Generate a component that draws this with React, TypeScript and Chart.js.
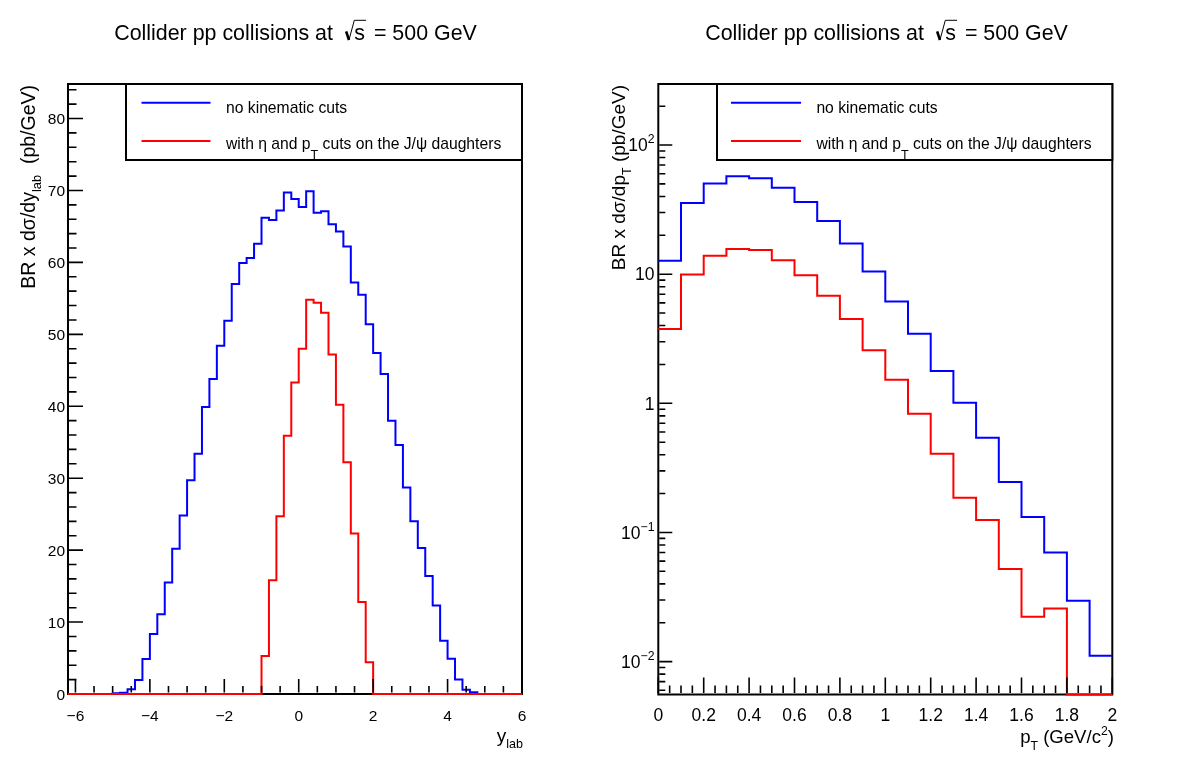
import React, { useEffect, useRef } from 'react';
import { Chart, registerables } from 'chart.js';

Chart.register(...registerables);

const FONT = '"Liberation Sans", Arial, Helvetica, sans-serif';
const BLUE = '#0000ff';
const RED = '#ff0000';

// Rapidity spectrum, bins of 0.2 from -6.2 to 6.0 (61 bins)
const yLabBinLow = -6.2;
const yLabBinWidth = 0.2;
const yLabNoCuts = [
  0, 0, 0, 0, 0, 0,
  0.12, 0.18, 0.65, 1.95, 4.87, 8.35, 11.1, 15.5, 20.2, 24.8,
  29.7, 33.4, 39.9, 43.8, 48.4, 51.9, 57.0, 59.9, 60.6, 62.6,
  66.2, 65.9, 67.2, 69.7, 68.8, 67.7, 69.9, 66.9, 67.1, 65.3,
  64.3, 62.2, 57.2, 55.5, 51.4, 47.4, 44.5, 38.0, 34.6, 28.7,
  24.0, 20.3, 16.4, 12.3, 7.4, 4.9, 2.0, 0.6, 0.23,
  0, 0, 0, 0, 0, 0,
];
const yLabWithCuts = [
  0, 0, 0, 0, 0, 0, 0, 0, 0, 0, 0, 0, 0, 0, 0, 0, 0, 0, 0, 0, 0, 0, 0, 0, 0, 0,
  5.3, 15.8, 24.7, 35.9, 43.3, 48.0, 54.8, 54.4, 53.0, 47.2, 40.2, 32.2, 22.3, 12.8, 4.4,
  0, 0, 0, 0, 0, 0, 0, 0, 0, 0, 0, 0, 0, 0, 0, 0, 0, 0, 0, 0,
];

// Transverse momentum spectrum, bins of 0.1 from 0 to 2 (20 bins)
const ptBinLow = 0;
const ptBinWidth = 0.1;
const ptNoCuts = [
  12.7, 35.6, 50.3, 57.3, 55.2, 46.8, 36.2, 25.8, 17.3, 10.5,
  6.15, 3.45, 1.78, 1.01, 0.542, 0.246, 0.132, 0.070, 0.0296, 0.0111,
];
const ptWithCuts = [
  3.76, 9.95, 13.9, 15.7, 15.4, 12.8, 9.8, 6.8, 4.49, 2.58,
  1.52, 0.83, 0.406, 0.186, 0.125, 0.052, 0.0222, 0.0258, 0, 0,
];

// Axis ticks and labels
const yLabMajorTicks = [-6, -4, -2, 0, 2, 4, 6];
const yLabTickLabels = ['\u22126', '\u22124', '\u22122', '0', '2', '4', '6'];
const yLabMinorStep = 0.5;
const dsdyMajorTicks = [0, 10, 20, 30, 40, 50, 60, 70, 80];
const dsdyTickLabels = ['0', '10', '20', '30', '40', '50', '60', '70', '80'];
const dsdyMinorStep = 2;
const ptMajorTicks = [0, 0.2, 0.4, 0.6, 0.8, 1, 1.2, 1.4, 1.6, 1.8, 2];
const ptTickLabels = ['0', '0.2', '0.4', '0.6', '0.8', '1', '1.2', '1.4', '1.6', '1.8', '2'];
const ptMinorStep = 0.05;
const dsdptMajorTicks = [0.01, 0.1, 1, 10, 100];
const dsdptTickLabels = ['10^{\u22122}', '10^{\u22121}', '1', '10', '10^{2}'];

const legendNoCuts = 'no kinematic cuts';
const legendWithCuts = 'with \u03b7 and p_{T} cuts on the J/\u03c8 daughters';
const titlePrefix = 'Collider pp collisions at';
const titleRoot = 's';
const titleSuffix = '= 500 GeV';

const PANEL_W = 591;
const PANEL_H = 780;

type Seg = { t: string; s: 0 | 1 | -1 };

function parseRich(src: string): Seg[] {
  const out: Seg[] = [];
  let i = 0;
  let buf = '';
  while (i < src.length) {
    const c = src[i];
    if ((c === '_' || c === '^') && src[i + 1] === '{') {
      if (buf) { out.push({ t: buf, s: 0 }); buf = ''; }
      const end = src.indexOf('}', i + 2);
      out.push({ t: src.slice(i + 2, end), s: c === '_' ? 1 : -1 });
      i = end + 1;
    } else {
      buf += c;
      i++;
    }
  }
  if (buf) out.push({ t: buf, s: 0 });
  return out;
}

const font = (size: number) => `${size}px ${FONT}`;

interface RichOpts { subScale?: number; subDrop?: number; supRise?: number }

function richWidth(ctx: CanvasRenderingContext2D, segs: Seg[], size: number, o: RichOpts) {
  let w = 0;
  for (const sg of segs) {
    ctx.font = font(sg.s ? size * (o.subScale ?? 0.72) : size);
    w += ctx.measureText(sg.t).width;
  }
  return w;
}

function drawRich(
  ctx: CanvasRenderingContext2D,
  text: string,
  x: number,
  y: number,
  size: number,
  align: 'left' | 'right' | 'center',
  o: RichOpts = {},
) {
  const segs = parseRich(text);
  const w = richWidth(ctx, segs, size, o);
  let cx = align === 'left' ? x : align === 'right' ? x - w : x - w / 2;
  ctx.textAlign = 'left';
  ctx.textBaseline = 'alphabetic';
  for (const sg of segs) {
    const sz = sg.s ? size * (o.subScale ?? 0.72) : size;
    ctx.font = font(sz);
    const dy = sg.s === 1 ? size * (o.subDrop ?? 0.4) : sg.s === -1 ? -size * (o.supRise ?? 0.42) : 0;
    ctx.fillText(sg.t, cx, y + dy);
    cx += ctx.measureText(sg.t).width;
  }
}

// Outline of a histogram: one point per low edge plus the last high edge
function histPoints(low: number, width: number, values: number[], floor?: number) {
  const pts = values.map((v, i) => ({
    x: low + i * width,
    y: floor !== undefined && v <= 0 ? floor : v,
  }));
  pts.push({ x: low + values.length * width, y: pts[pts.length - 1].y });
  return pts;
}

function linearMinors(from: number, to: number, step: number) {
  const out: number[] = [];
  const n = Math.round((to - from) / step);
  for (let i = 0; i <= n; i++) out.push(from + i * step);
  return out;
}

function logMinors(min: number, max: number) {
  const out: number[] = [];
  for (let d = -4; d <= 3; d++) {
    for (let k = 1; k <= 9; k++) {
      const v = k * Math.pow(10, d);
      if (v >= min && v <= max) out.push(v);
    }
  }
  return out;
}

interface Series { points: { x: number; y: number }[]; color: string; label: string; row: number; baseline: number }

interface PanelSpec {
  offsetX: number;
  frame: { left: number; right: number; top: number; bottom: number };
  xMin: number;
  xMax: number;
  xMajors: number[];
  xLabels: string[];
  xMinors: number[];
  xMajorLen: number;
  xMinorLen: number;
  xLabelSize: number;
  xLabelBaseline: number;
  xTitle: string;
  xTitleRight: number;
  xTitleBaseline: number;
  xTitleSize: number;
  yType: 'linear' | 'logarithmic';
  yMin: number;
  yMax: number;
  yMajors: number[];
  yLabels: string[];
  yMinors: number[];
  yMajorLen: number;
  yMinorLen: number;
  yLabelSize: number;
  yLabelRight: number;
  yTitle: string;
  yTitleBaselineX: number;
  yTitleSize: number;
  series: Series[];
  legend: { left: number; right: number; top: number; bottom: number; lineFrom: number; lineTo: number; textX: number };
}

function decorPlugin(spec: PanelSpec) {
  const ox = spec.offsetX;
  return {
    id: 'rootFrame',
    beforeDatasetsDraw(chart: any) {
      const { ctx, chartArea: a } = chart;
      ctx.save();
      ctx.fillStyle = '#ffffff';
      ctx.fillRect(0, 0, chart.width, chart.height);
      ctx.strokeStyle = '#000000';
      ctx.lineWidth = 2;
      ctx.strokeRect(a.left, a.top, a.right - a.left, a.bottom - a.top);
      ctx.restore();
    },
    afterDatasetsDraw(chart: any) {
      const { ctx, chartArea: a } = chart;
      const xs = chart.scales.x;
      const ys = chart.scales.y;
      ctx.save();
      ctx.strokeStyle = '#000000';
      ctx.fillStyle = '#000000';
      ctx.lineWidth = 1.6;
      const near = (v: number, arr: number[]) => arr.some((m) => Math.abs(m - v) < 1e-9 * Math.max(1, Math.abs(m)));

      // ticks pointing into the frame
      ctx.beginPath();
      for (const v of spec.xMinors) {
        const px = xs.getPixelForValue(v);
        const len = near(v, spec.xMajors) ? spec.xMajorLen : spec.xMinorLen;
        ctx.moveTo(px, a.bottom - 1.5);
        ctx.lineTo(px, a.bottom - len);
      }
      for (const v of spec.yMinors) {
        if (Math.abs(v - spec.yMin) < 1e-12) continue;
        const py = ys.getPixelForValue(v);
        const len = near(v, spec.yMajors) ? spec.yMajorLen : spec.yMinorLen;
        ctx.moveTo(a.left + 1, py);
        ctx.lineTo(a.left + len, py);
      }
      ctx.stroke();

      // tick labels
      spec.xMajors.forEach((v, i) => {
        drawRich(ctx, spec.xLabels[i], xs.getPixelForValue(v), spec.xLabelBaseline, spec.xLabelSize, 'center');
      });
      spec.yMajors.forEach((v, i) => {
        const py = ys.getPixelForValue(v);
        drawRich(ctx, spec.yLabels[i], spec.yLabelRight - ox, py + spec.yLabelSize * 0.36, spec.yLabelSize, 'right', { supRise: 0.45, subScale: 0.7 });
      });

      // axis titles
      drawRich(ctx, spec.xTitle, spec.xTitleRight - ox, spec.xTitleBaseline, spec.xTitleSize, 'right', { subDrop: 0.35, supRise: 0.45, subScale: 0.66 });
      ctx.save();
      ctx.translate(spec.yTitleBaselineX - ox, a.top + 1);
      ctx.rotate(-Math.PI / 2);
      drawRich(ctx, spec.yTitle, 0, 0, spec.yTitleSize, 'right', { subDrop: 0.35, subScale: 0.66 });
      ctx.restore();

      // title with a square-root sign
      const tSize = 21.4;
      ctx.font = font(tSize);
      const wPre = ctx.measureText(titlePrefix + ' ').width;
      const wRoot = ctx.measureText(titleRoot).width;
      const wSuf = ctx.measureText(' ' + titleSuffix).width;
      const gapBefore = tSize * 0.34;
      const radW = tSize * 0.38;
      const gapAfter = tSize * 0.14;
      const total = wPre + gapBefore + radW + wRoot + gapAfter + wSuf;
      let tx = PANEL_W / 2 - total / 2;
      const tBase = 40;
      ctx.textAlign = 'left';
      ctx.textBaseline = 'alphabetic';
      ctx.fillText(titlePrefix + ' ', tx, tBase);
      tx += wPre + gapBefore;
      ctx.beginPath();
      ctx.lineWidth = 2.6;
      ctx.moveTo(tx, tBase - tSize * 0.4);
      ctx.lineTo(tx + tSize * 0.13, tBase);
      ctx.stroke();
      ctx.beginPath();
      ctx.lineWidth = 1;
      ctx.moveTo(tx + tSize * 0.13, tBase);
      ctx.lineTo(tx + radW, tBase - tSize * 0.92);
      ctx.lineTo(tx + radW + wRoot + tSize * 0.05, tBase - tSize * 0.92);
      ctx.stroke();
      tx += radW;
      ctx.fillText(titleRoot, tx, tBase);
      tx += wRoot + gapAfter;
      ctx.fillText(' ' + titleSuffix, tx, tBase);

      // legend box
      const L = spec.legend;
      ctx.fillStyle = '#ffffff';
      ctx.fillRect(L.left - ox, L.top, L.right - L.left, L.bottom - L.top);
      ctx.strokeStyle = '#000000';
      ctx.lineWidth = 2;
      ctx.strokeRect(L.left - ox, L.top, L.right - L.left, L.bottom - L.top);
      for (const s of spec.series) {
        ctx.beginPath();
        ctx.strokeStyle = s.color;
        ctx.lineWidth = 2;
        ctx.moveTo(L.lineFrom - ox, s.row);
        ctx.lineTo(L.lineTo - ox, s.row);
        ctx.stroke();
        ctx.fillStyle = '#000000';
        drawRich(ctx, s.label, L.textX - ox, s.baseline, 15.7, 'left', { subDrop: 0.6, subScale: 0.8 });
      }
      ctx.restore();
    },
  };
}

const leftSpec: PanelSpec = {
  offsetX: 0,
  frame: { left: 68, right: 522, top: 84, bottom: 694 },
  xMin: -6.2,
  xMax: 6,
  xMajors: yLabMajorTicks,
  xLabels: yLabTickLabels,
  xMinors: linearMinors(-6, 6, yLabMinorStep),
  xMajorLen: 15,
  xMinorLen: 8,
  xLabelSize: 15.5,
  xLabelBaseline: 720.5,
  xTitle: 'y_{lab}',
  xTitleRight: 523,
  xTitleBaseline: 741.5,
  xTitleSize: 19,
  yType: 'linear',
  yMin: 0,
  yMax: 84.8,
  yMajors: dsdyMajorTicks,
  yLabels: dsdyTickLabels,
  yMinors: linearMinors(0, 84, dsdyMinorStep),
  yMajorLen: 15,
  yMinorLen: 8.5,
  yLabelSize: 15.5,
  yLabelRight: 65,
  yTitle: 'BR x d\u03c3/dy_{lab}  (pb/GeV)',
  yTitleBaselineX: 34.6,
  yTitleSize: 19.5,
  series: [
    { points: histPoints(yLabBinLow, yLabBinWidth, yLabWithCuts), color: RED, label: legendWithCuts, row: 141, baseline: 149.3 },
    { points: histPoints(yLabBinLow, yLabBinWidth, yLabNoCuts), color: BLUE, label: legendNoCuts, row: 102.7, baseline: 112.7 },
  ],
  legend: { left: 126, right: 522, top: 84, bottom: 160, lineFrom: 141.5, lineTo: 210.5, textX: 226 },
};

const PT_LOG_MIN = 0.00556;
const PT_LOG_MAX = 297;

const rightSpec: PanelSpec = {
  offsetX: PANEL_W,
  frame: { left: 658.3, right: 1112.3, top: 84, bottom: 694.5 },
  xMin: 0,
  xMax: 2,
  xMajors: ptMajorTicks,
  xLabels: ptTickLabels,
  xMinors: linearMinors(0, 2, ptMinorStep),
  xMajorLen: 17,
  xMinorLen: 9,
  xLabelSize: 17.5,
  xLabelBaseline: 720.5,
  xTitle: 'p_{T} (GeV/c^{2})',
  xTitleRight: 1114,
  xTitleBaseline: 743,
  xTitleSize: 18.6,
  yType: 'logarithmic',
  yMin: PT_LOG_MIN,
  yMax: PT_LOG_MAX,
  yMajors: dsdptMajorTicks,
  yLabels: dsdptTickLabels,
  yMinors: logMinors(PT_LOG_MIN, PT_LOG_MAX),
  yMajorLen: 14,
  yMinorLen: 7,
  yLabelSize: 17.5,
  yLabelRight: 654.5,
  yTitle: 'BR x d\u03c3/dp_{T} (pb/GeV)',
  yTitleBaselineX: 624.5,
  yTitleSize: 19,
  series: [
    { points: histPoints(ptBinLow, ptBinWidth, ptWithCuts, PT_LOG_MIN), color: RED, label: legendWithCuts, row: 141, baseline: 149.3 },
    { points: histPoints(ptBinLow, ptBinWidth, ptNoCuts, PT_LOG_MIN), color: BLUE, label: legendNoCuts, row: 102.7, baseline: 112.7 },
  ],
  legend: { left: 717, right: 1112.3, top: 84, bottom: 160, lineFrom: 731, lineTo: 801, textX: 816.4 },
};

function Panel({ spec }: { spec: PanelSpec }) {
  const ref = useRef<HTMLCanvasElement>(null);
  useEffect(() => {
    const canvas = ref.current;
    if (!canvas) return;
    const ox = spec.offsetX;
    const chart = new Chart(canvas, {
      type: 'line',
      data: {
        datasets: spec.series.map((s) => ({
          data: s.points,
          borderColor: s.color,
          backgroundColor: s.color,
          borderWidth: 2,
          pointRadius: 0,
          stepped: 'before' as const,
          fill: false,
          tension: 0,
          clip: false as any,
        })),
      },
      options: {
        responsive: false,
        animation: false,
        devicePixelRatio: 1,
        events: [],
        layout: {
          padding: {
            left: spec.frame.left - ox,
            right: PANEL_W - (spec.frame.right - ox),
            top: spec.frame.top,
            bottom: PANEL_H - spec.frame.bottom,
          },
        },
        scales: {
          x: { type: 'linear', min: spec.xMin, max: spec.xMax, display: false },
          y: { type: spec.yType, min: spec.yMin, max: spec.yMax, display: false },
        },
        plugins: {
          legend: { display: false },
          tooltip: { enabled: false },
          title: { display: false },
        },
      },
      plugins: [decorPlugin(spec)],
    });
    return () => chart.destroy();
  }, [spec]);
  return (
    <canvas
      ref={ref}
      width={PANEL_W}
      height={PANEL_H}
      style={{ position: 'absolute', left: spec.offsetX, top: 0, width: PANEL_W, height: PANEL_H }}
    />
  );
}

export default function App() {
  return (
    <div style={{ position: 'fixed', left: 0, top: 0, width: PANEL_W * 2, height: PANEL_H, background: '#ffffff' }}>
      <Panel spec={leftSpec} />
      <Panel spec={rightSpec} />
    </div>
  );
}
